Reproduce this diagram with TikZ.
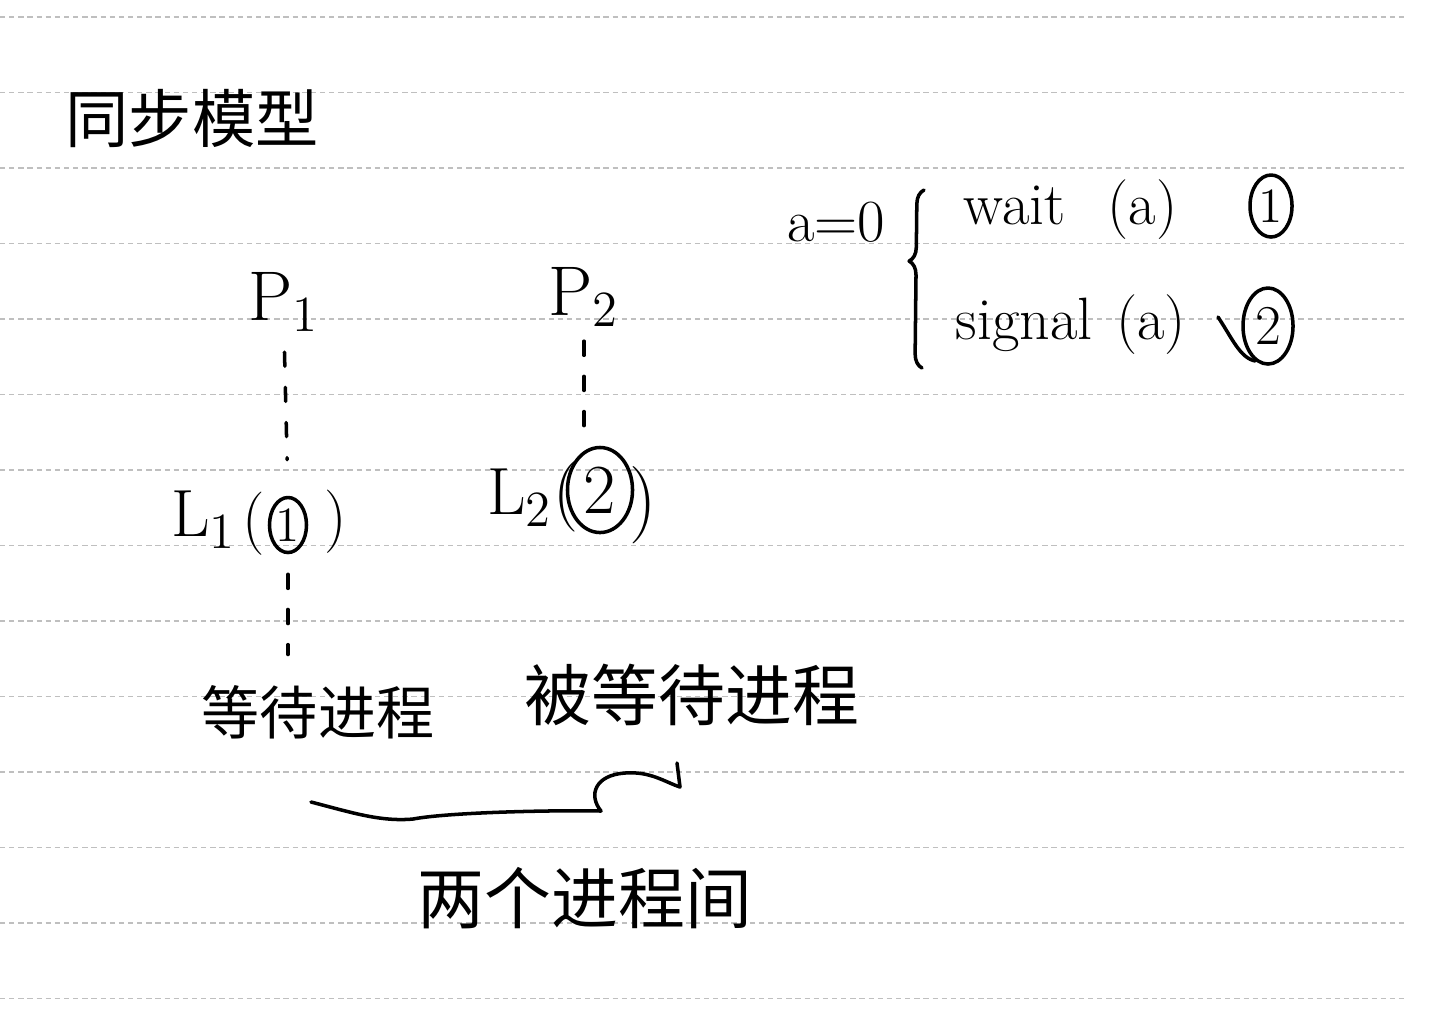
\documentclass[tikz,border=0pt]{standalone}
\usepackage{fontspec}
\newfontfamily\cjk{Noto Sans CJK SC}
\usepackage{tikz}
\usetikzlibrary{calc, positioning, shapes.geometric, decorations.pathreplacing}
\tikzset{
  rule/.style={black!25, line width=0.4pt, dash pattern=on 1.5pt off 1.1pt},
  hand/.style={line width=1pt, line cap=round, line join=round},
  dots/.style={hand, dash pattern=on 4pt off 6pt},
  zh/.style={font=\cjk\fontsize{#1}{#1}\selectfont, inner sep=0pt},
  lat/.style={font=\fontsize{#1}{#1}\selectfont, inner sep=0pt},
  ring/.style 2 args={ellipse, draw, hand, minimum width=#1, minimum height=#2, inner sep=0pt},
}

\begin{document}
\begin{tikzpicture}[x=0.01cm, y=-0.01cm]
			\useasboundingbox (0,0) rectangle (1434,1008);
			\fill[white] (0,0) rectangle (1434,1008);
			% notebook rules
			\foreach \k in {0,...,13}
				\draw[rule] (0,{17+75.5*\k}) -- (1407,{17+75.5*\k});
			\node[zh=18] (title) at (192,118) {同步模型};
			% a = 0 and the two operations
			\node[lat=17] (init) at (836,222) {a=0};
			\draw[hand, decorate, decoration={brace, amplitude=4pt, aspect=0.6}] (922,368) -- (924,190);
			\node[lat=17, anchor=west] (wait) at (963,210) {wait\hspace{0.7em}(a)};
			\node[lat=17, anchor=west] (signal) at (955,325) {signal\hspace{0.4em}(a)};
			\node[ring={0.42cm}{0.62cm}, lat=14] (n1) at (1271,206) {1};
			\node[ring={0.5cm}{0.76cm}, lat=16] (n2) at (1268,326) {2};
			\coordinate (tick) at (1218,317);
			\draw[hand] (tick) .. controls (1232,338) and (1240,358) .. (n2.250);
			% the two processes
			\node[lat=20] (p1) at (284,302) {$\mathrm{P}_1$};
			\node[lat=20] (p2) at (584,297) {$\mathrm{P}_2$};
			\node[lat=19] (l1) at (204,520) {$\mathrm{L}_1$};
			\node[lat=18] (l1open) at (254,524) {(};
			\node[ring={0.37cm}{0.55cm}, lat=14] (n3) at (288,525) {1};
			\node[lat=18] (l1close) at (336,522) {)};
			\node[lat=19] (l2) at (520,498) {$\mathrm{L}_2$};
			\node[lat=20] (l2open) at (566,497) {(};
			\node[ring={0.65cm}{0.85cm}, lat=20] (n4) at (600,490) {2};
			\node[lat=22] (l2close) at (643,505) {)};
			\node[zh=16.5] (waiting) at (318,712) {等待进程};
			\node[zh=19] (waited) at (692,695) {被等待进程};
			\node[zh=19] (between) at (585,898) {两个进程间};
			% dotted links
			\draw[dots, shorten <=0.2cm, shorten >=0.36cm] (p1.south) -- (n3.north);
			\draw[dots, shorten <=0.14cm, shorten >=0.08cm] (p2.south) -- (p2.south |- n4.north);
			\draw[dots, shorten <=0.2cm, shorten >=0.3cm] (n3.south) -- (n3.south |- waiting.north);
			% joining curve
			\coordinate (bl) at (311,802);
			\coordinate (br) at (677,763);
			\draw[hand] (bl) .. controls (350,812) and (380,822) .. (413,819) .. controls (450,812) and (560,810) .. (601,811) .. controls (588,795) and (595,775) .. (625,773) .. controls (650,771) and (665,782) .. (680,787) -- (br);
		\end{tikzpicture}
\end{document}
